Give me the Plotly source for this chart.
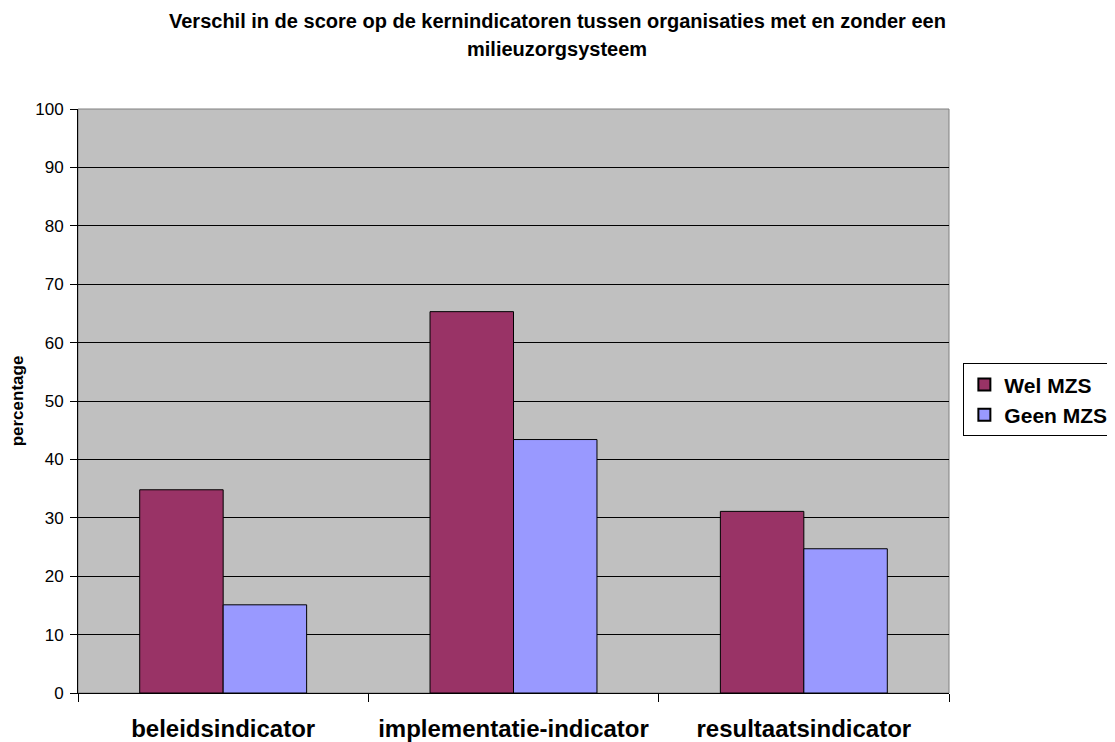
import plotly.graph_objects as go

categories = ["beleidsindicator", "implementatie-indicator", "resultaatsindicator"]
wel_mzs = [34.8, 65.3, 31.1]
geen_mzs = [15.1, 43.4, 24.7]
y_ticks = [0, 10, 20, 30, 40, 50, 60, 70, 80, 90, 100]
title_lines = ["Verschil in de score op de kernindicatoren tussen organisaties met en zonder een",
               "milieuzorgsysteem"]

FONT = "Arial, Liberation Sans"

fig = go.Figure()
fig.add_trace(go.Bar(name="<b>Wel MZS</b>", x=categories, y=wel_mzs,
                     marker=dict(color="#993366", line=dict(color="black", width=1))))
fig.add_trace(go.Bar(name="<b>Geen MZS</b>", x=categories, y=geen_mzs,
                     marker=dict(color="#9999FF", line=dict(color="black", width=1))))

fig.update_layout(
    width=1107, height=734,
    margin=dict(l=70, r=166, t=101, b=49, autoexpand=False),
    paper_bgcolor="white",
    plot_bgcolor="#C0C0C0",
    barmode="group",
    bargap=0.425,
    bargroupgap=0,
    font=dict(family=FONT, color="black"),
    legend=dict(x=1.0165, y=0.502, xanchor="left", yanchor="middle",
                bordercolor="black", borderwidth=1, bgcolor="white",
                font=dict(size=21, family=FONT, color="black"),
                itemsizing="constant", tracegroupgap=0),
    showlegend=True,
)
fig.add_annotation(text="<b>" + title_lines[0] + "</b>", xref="paper", yref="paper",
                   x=0.5505, y=1.150, xanchor="center", yanchor="middle", showarrow=False,
                   font=dict(size=20, family=FONT, color="black"))
fig.add_annotation(text="<b>" + title_lines[1] + "</b>", xref="paper", yref="paper",
                   x=0.5505, y=1.102, xanchor="center", yanchor="middle", showarrow=False,
                   font=dict(size=20, family=FONT, color="black"))
fig.update_xaxes(
    showline=True, linecolor="black", linewidth=1,
    ticks="outside", tickson="boundaries", ticklen=8, tickcolor="black",
    tickfont=dict(size=24, family=FONT, color="black"),
    tickprefix="<b>", ticksuffix="</b>",
    ticklabelstandoff=14,
    showgrid=False, automargin=False,
)
fig.update_yaxes(
    range=[0, 100], tickvals=y_ticks,
    showline=True, linecolor="black", linewidth=1,
    ticks="outside", ticklen=7, tickcolor="black",
    tickfont=dict(size=17, family=FONT, color="black"),
    ticklabelstandoff=3,
    showgrid=True, gridcolor="black", gridwidth=1,
    title=dict(text="<b>percentage</b>", font=dict(size=17, family=FONT, color="black"), standoff=12),
    zeroline=False, automargin=False,
)
fig.add_shape(type="rect", xref="paper", yref="paper", x0=0, x1=1, y0=0, y1=1,
              line=dict(color="#808080", width=1), layer="below")

fig.write_html("out.html")
